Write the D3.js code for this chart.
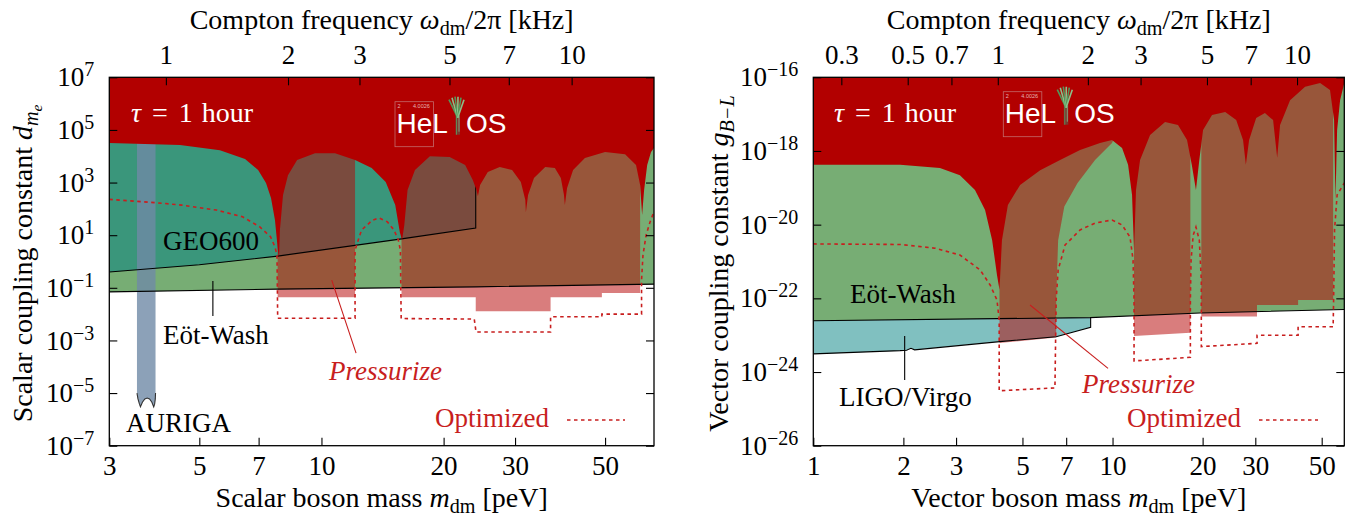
<!DOCTYPE html>
<html><head><meta charset="utf-8">
<script src="https://cdn.jsdelivr.net/npm/d3@7"></script>
<style>
body{margin:0;background:#fff;}
svg{display:block;}
text{font-family:"Liberation Serif","DejaVu Serif",serif;}
</style></head><body>
<svg id="chart" width="1350" height="517"></svg>
<script>
// ---------------- DATA ----------------
const KHZ_TO_PEV = 4.135667;

const scalarMassTicks = [3, 5, 7, 10, 20, 30, 50];
const scalarFreqTicks = [1, 2, 3, 5, 7, 10];
const scalarCouplingTicks = [1e-7, 1e-5, 1e-3, 1e-1, 1e1, 1e3, 1e5, 1e7];
const vectorMassTicks = [1, 2, 3, 5, 7, 10, 20, 30, 50];
const vectorFreqTicks = [0.3, 0.5, 0.7, 1, 2, 3, 5, 7, 10];
const vectorCouplingTicks = [1e-26, 1e-24, 1e-22, 1e-20, 1e-18, 1e-16];

// Scalar panel (mass [peV], d_me)
const scalarEotWash = [[3, 0.07], [7.77, 0.089], [24, 0.109], [66, 0.138]];
const scalarGEO600 = [[3, 0.4], [5, 0.75], [7.8, 1.6], [15.6, 7.1], [24, 18.6]];
const scalarAURIGA = [[3.51, 1e7], [3.51, 1e-5], [3.53, 6e-6], [3.56, 3.8e-6], [3.58, 3e-6], [3.62, 4.5e-6],
  [3.67, 6e-6], [3.72, 6.5e-6], [3.77, 6e-6], [3.82, 4.5e-6], [3.86, 3e-6], [3.88, 3.8e-6], [3.895, 6e-6],
  [3.90, 1e-5], [3.90, 1e7]];
const scalarHelios = [[3.0, 3.2e4], [4.48, 2.7e4], [5.62, 1.7e4], [6.48, 7.8e3], [6.98, 3.0e3], [7.3, 960],
  [7.51, 258], [7.68, 37.5], [7.81, 2.7], [7.86, 1.35], [7.9, 15.6], [8.04, 335], [8.27, 1.9e3], [8.71, 7.2e3],
  [9.64, 1.3e4], [10.8, 1.3e4], [12.1, 7.2e3], [13.3, 3.6e3], [14.4, 1.04e3], [15.2, 139], [15.6, 13],
  [15.8, 6.5], [16.0, 24], [16.3, 520], [17.0, 3.0e3], [18.5, 1.0e4], [20.7, 9.3e3], [22.6, 4.6e3],
  [23.6, 1.24e3], [24.1, 520], [24.3, 300], [24.6, 800], [25.7, 2.5e3], [27.5, 3.9e3], [29.5, 3.0e3],
  [31.0, 1.04e3], [31.8, 216], [31.9, 75], [32.3, 335], [33.4, 1.5e3], [35.6, 3.9e3], [37.6, 3.6e3],
  [38.9, 1.5e3], [39.6, 335], [39.8, 139], [40.3, 620], [41.7, 3.0e3], [44.6, 8.5e3], [50.0, 1.45e4],
  [56.0, 1.2e4], [59.6, 4.6e3], [61.0, 800], [61.7, 58], [62.4, 520], [63.5, 4.6e3], [64.9, 1.45e4], [66.0, 2.05e4]];
const scalarPressurize = [
  [[7.8, 1e7], [7.8, 0.044], [12.1, 0.044], [12.1, 1e7]],
  [[15.75, 1e7], [15.75, 0.044], [24.0, 0.044], [24.0, 0.013], [36.7, 0.013], [36.7, 0.044], [49.1, 0.044],
   [49.1, 0.063], [61.0, 0.063], [61.0, 1e7]]
];
const scalarOptimized = [[3.0, 230], [3.91, 171], [4.53, 139], [5.51, 90], [6.39, 50], [7.04, 20.9], [7.49, 8.7],
  [7.68, 3.6], [7.77, 1.75], [7.8, 0.007], [12.1, 0.007], [12.1, 2.7], [12.55, 15.6], [13.35, 37], [13.85, 46],
  [14.54, 32], [15.1, 15.6], [15.47, 6.5], [15.65, 2.7], [15.72, 0.0068], [23.8, 0.0065], [24.04, 0.0021],
  [36.7, 0.0021], [36.7, 0.0079], [49.1, 0.0079], [49.1, 0.01], [61.5, 0.01], [61.5, 0.2], [62.0, 1.75],
  [63.1, 10], [64.5, 31], [66.0, 78]];

// Vector panel (mass [peV], g_B-L)
const vectorEotWash = [[1, 2.47e-23], [8.41, 3.0e-23], [19.6, 4.0e-23], [59.5, 5.0e-23]];
const vectorLIGO = [[1, 3.1e-24], [1.95, 3.8e-24], [2.05, 3.9e-24], [2.12, 4.4e-24], [2.18, 4.0e-24],
  [4.2, 6.7e-24], [6.48, 9.1e-24], [8.45, 1.64e-23], [8.45, 3.0e-23]];
const vectorHelios = [[1, 4.2e-19], [1.95, 4.2e-19], [2.65, 3.45e-19], [3.09, 2.2e-19], [3.47, 8.7e-20],
  [3.75, 2.5e-20], [3.96, 3.8e-21], [4.11, 4.3e-22], [4.19, 1.7e-22], [4.27, 3.8e-21], [4.47, 3.4e-20],
  [4.91, 1.2e-19], [5.73, 3.0e-19], [6.68, 5.7e-19], [7.79, 1.06e-18], [9.08, 1.65e-18], [9.96, 2.0e-18],
  [10.76, 1.2e-18], [11.27, 4.2e-19], [11.62, 6.4e-20], [11.8, 2.0e-21], [11.98, 8.7e-20], [12.36, 5.7e-19],
  [13.35, 2.7e-18], [14.98, 6.1e-18], [16.55, 5.1e-18], [17.74, 2.0e-18], [18.4, 4.2e-19], [19.0, 8.7e-20],
  [19.5, 5.7e-19], [20.07, 3.7e-18], [21.5, 9.5e-18], [23.8, 1.14e-17], [25.9, 6.9e-18], [27.3, 2.0e-18],
  [27.9, 4.2e-19], [28.6, 2.0e-18], [30.2, 7.9e-18], [32.3, 1.07e-17], [34.4, 6.9e-18], [35.5, 6.5e-19],
  [36.3, 5.1e-18], [39.2, 2.4e-17], [44.0, 5.5e-17], [49.4, 7.0e-17], [53.3, 4.5e-17], [55.0, 6.9e-18],
  [55.6, 4.7e-20], [56.3, 3.7e-18], [57.6, 2.4e-17], [59.5, 7.0e-17]];
const vectorPressurize = [
  [[4.19, 1e-16], [4.19, 6.1e-24], [6.48, 8.6e-24], [6.48, 9e-23], [6.58, 3.8e-21], [6.9, 3.1e-20],
   [7.64, 1.35e-19], [8.74, 5.7e-19], [9.96, 1.65e-18], [11.44, 2.4e-17], [11.8, 1e-16]],
  [[11.8, 1e-16], [11.8, 9.5e-24], [18.2, 1.17e-23], [18.2, 1e-16]],
  [[19.8, 1e-16], [19.8, 3.2e-23], [30.4, 3.2e-23], [30.4, 6.6e-23], [41.7, 6.6e-23], [41.7, 9e-23],
   [54.6, 9e-23], [54.6, 1e-16]]
];
const vectorOptimized = [[1, 3.0e-21], [1.95, 2.9e-21], [2.55, 2.3e-21], [3.09, 1.5e-21], [3.61, 5.9e-22],
  [3.90, 2.3e-22], [4.11, 9.0e-23], [4.18, 2.6e-23], [4.18, 3.1e-25], [6.42, 3.7e-25], [6.48, 9.0e-23],
  [6.58, 5.9e-22], [6.94, 2.8e-21], [7.79, 7.2e-21], [8.74, 1.1e-20], [9.96, 1.34e-20], [10.76, 9.8e-21],
  [11.44, 4.6e-21], [11.71, 1.1e-21], [11.8, 9e-23], [11.8, 2.0e-24], [18.2, 2.5e-24], [18.2, 9e-23],
  [18.3, 1.1e-21], [18.6, 5.2e-21], [19.0, 8.6e-21], [19.5, 3.8e-21], [19.8, 3.1e-22], [19.8, 4.9e-24],
  [30.4, 6.0e-24], [30.4, 1.0e-23], [41.7, 1.0e-23], [41.7, 1.7e-23], [54.6, 1.7e-23], [54.8, 9e-23],
  [55.2, 7.2e-21], [56.3, 6.4e-20], [59.5, 1.35e-19]];

// ---------------- STYLE ----------------
const C = {
  darkRed: "#b20000", green: "#77ad74", teal: "#3a967b", ligo: "#80c0c0",
  press: "#b60505", pressOp: 0.52, auriga: "#6f8aa6", red: "#c81e1e"
};
const FS = 27;
const TFS = 28;
const SANS = "'Liberation Sans', Arial, Helvetica, sans-serif";

const svg = d3.select("#chart");

function rich(g, x, y, parts, opts = {}) {
  const fs = opts.size || FS;
  const t = g.append("text").attr("x", x).attr("y", y).attr("font-size", fs)
    .attr("fill", opts.fill || "#000").attr("text-anchor", opts.anchor || "start");
  if (opts.italic) t.attr("font-style", "italic");
  let shift = 0;
  parts.forEach(p => {
    const s = t.append("tspan").text(p.t);
    let target = 0, size = fs;
    if (p.sub === 1) { target = fs * 0.22; size = fs * 0.72; }
    if (p.sub === 2) { target = fs * 0.36; size = fs * 0.55; }
    s.attr("dy", target - shift).attr("font-size", size);
    if (p.dx) s.attr("dx", p.dx);
    shift = target;
    if (p.i) s.attr("font-style", "italic");
  });
  return t;
}

function drawPanel(cfg) {
  const { x0, x1, y0, y1 } = cfg;
  const X = d3.scaleLog().domain(cfg.xDom).range([x0, x1]);
  const Y = d3.scaleLog().domain(cfg.yDom).range([y1, y0]);
  const line = d3.line().x(d => X(d[0])).y(d => Y(d[1]));
  const yTop = cfg.yDom[1];
  const above = pts => line(pts.concat([[pts[pts.length - 1][0], yTop * 10], [pts[0][0], yTop * 10]])) + "Z";

  const clipId = "clip" + cfg.id;
  svg.append("clipPath").attr("id", clipId).append("rect")
    .attr("x", x0).attr("y", y0).attr("width", x1 - x0).attr("height", y1 - y0);
  const g = svg.append("g").attr("clip-path", `url(#${clipId})`);

  if (cfg.ligo) {
    g.append("path").attr("d", line(cfg.ligo.concat([[cfg.ligo[0][0], cfg.ligo[0][1] * 30]])) + "Z")
      .attr("fill", C.ligo);
  }
  g.append("path").attr("d", above(cfg.eot)).attr("fill", C.green);
  if (cfg.geo) g.append("path").attr("d", above(cfg.geo)).attr("fill", C.teal);
  if (cfg.auriga) g.append("path").attr("d", line(cfg.auriga) + "Z").attr("fill", C.auriga).attr("fill-opacity", 0.8);

  cfg.press.forEach(p => g.append("path").attr("d", line(p) + "Z").attr("fill", C.press).attr("fill-opacity", C.pressOp));

  const ln = (pts, col) => g.append("path").attr("d", line(pts)).attr("fill", "none")
    .attr("stroke", col || "#000").attr("stroke-width", 1.1);
  ln(cfg.eot);
  if (cfg.geo) ln(cfg.geo.concat([[cfg.geo[cfg.geo.length - 1][0], yTop]]));
  if (cfg.ligo) ln(cfg.ligo);
  if (cfg.auriga) ln(cfg.auriga.slice(1, -1), "#333");

  g.append("path").attr("d", above(cfg.helios)).attr("fill", C.darkRed);

  g.append("path").attr("d", line(cfg.opt)).attr("fill", "none").attr("stroke", C.red)
    .attr("stroke-width", 1.6).attr("stroke-dasharray", "3.5,3.5");

  // axes (inward ticks)
  const ax = svg.append("g");
  const styleAxis = sel => {
    sel.attr("font-family", null).attr("font-size", null);
    sel.select(".domain").remove();
    sel.selectAll(".tick line").attr("stroke", "#000").attr("stroke-width", 1.1);
    sel.selectAll(".tick text").attr("font-size", FS).attr("fill", "#000");
  };
  ax.append("g").attr("transform", `translate(0,${y1})`)
    .call(d3.axisBottom(X).tickValues(cfg.xTicks).tickSize(-8).tickPadding(10).tickFormat(d => d))
    .call(styleAxis);
  ax.append("g").attr("transform", `translate(0,${y0})`)
    .call(d3.axisTop(X).tickValues(cfg.fTicks.map(f => f * KHZ_TO_PEV)).tickSize(-8).tickPadding(13)
      .tickFormat((d, i) => cfg.fTicks[i]))
    .call(styleAxis);
  const yl = ax.append("g").attr("transform", `translate(${x0},0)`)
    .call(d3.axisLeft(Y).tickValues(cfg.yTicks).tickSize(-8).tickPadding(15))
    .call(styleAxis);
  yl.selectAll(".tick text").each(function (d) {
    const t = d3.select(this); const e = Math.round(Math.log10(d));
    t.text(null);
    t.append("tspan").text("10");
    t.append("tspan").attr("dy", "-0.5em").attr("font-size", 20).text(e < 0 ? "\u2212" + (-e) : e);
  });
  ax.append("g").attr("transform", `translate(${x1},0)`)
    .call(d3.axisRight(Y).tickValues(cfg.yTicks).tickSize(-8).tickFormat(""))
    .call(styleAxis);
  svg.append("rect").attr("x", x0).attr("y", y0).attr("width", x1 - x0).attr("height", y1 - y0)
    .attr("fill", "none").attr("stroke", "#000").attr("stroke-width", 1.3);

  // titles
  const cx = (x0 + x1) / 2;
  rich(svg, cx, 29, [{ t: "Compton frequency " }, { t: "ω", i: 1 }, { t: "dm", sub: 1 }, { t: "/2π [kHz]" }], { anchor: "middle", size: TFS });
  rich(svg, cx, 507, [{ t: cfg.xTitle + " boson mass " }, { t: "m", i: 1 }, { t: "dm", sub: 1 }, { t: " [peV]" }], { anchor: "middle", size: TFS });
  const yt = svg.append("g").attr("transform", `translate(${cfg.yTitleX},${(y0 + y1) / 2 + 2}) rotate(-90)`);
  rich(yt, 0, 0, cfg.yTitle, { anchor: "middle", size: TFS });

  return { X, Y, g };
}

function logo(x, y) {
  const g = svg.append("g").attr("transform", `translate(${x},${y})`);
  g.append("rect").attr("x", 0).attr("y", 0).attr("width", 38.5).attr("height", 45)
    .attr("fill", "none").attr("stroke", "#c46a6a").attr("stroke-width", 0.8);
  const st = (sel) => sel.style("font-family", SANS);
  st(g.append("text").attr("x", 2.5).attr("y", 6.5).attr("font-size", 5.5).attr("fill", "#e6b4b4").text("2"));
  st(g.append("text").attr("x", 18).attr("y", 6.5).attr("font-size", 5.5).attr("fill", "#e6b4b4").text("4.0026"));
  st(g.append("text").attr("x", 1.5).attr("y", 31).attr("font-size", 28).attr("fill", "#fff").text("HeL"));
  st(g.append("text").attr("x", 71).attr("y", 31).attr("font-size", 28).attr("fill", "#fff").text("OS"));
  g.append("rect").attr("x", 60.5).attr("y", 10).attr("width", 4.5).attr("height", 23).attr("fill", "#7a3a30");
  const fan = [[54, -2], [57, -4], [60, -5], [63, -5], [66, -4], [69, -2]];
  fan.forEach((p, i) => g.append("line").attr("x1", 62.7).attr("y1", 16).attr("x2", p[0]).attr("y2", p[1])
    .attr("stroke", i % 2 ? "#8cc08a" : "#4f9a5a").attr("stroke-width", 1.6));
  g.append("line").attr("x1", 61.5).attr("y1", 14).attr("x2", 61.5).attr("y2", 33).attr("stroke", "#5c9a60").attr("stroke-width", 0.8);
  g.append("line").attr("x1", 64).attr("y1", 14).attr("x2", 64).attr("y2", 30).attr("stroke", "#8fb58a").attr("stroke-width", 0.8);
}

// ---------------- LEFT (scalar) ----------------
const L = drawPanel({
  id: "L", x0: 109.3, x1: 654, y0: 77.3, y1: 445.7, xDom: [3, 66], yDom: [1e-7, 1e7],
  xTicks: scalarMassTicks, fTicks: scalarFreqTicks, yTicks: scalarCouplingTicks,
  eot: scalarEotWash, geo: scalarGEO600, auriga: scalarAURIGA, helios: scalarHelios,
  press: scalarPressurize, opt: scalarOptimized, xTitle: "Scalar", yTitleX: 32,
  yTitle: [{ t: "Scalar coupling constant " }, { t: "d", i: 1 }, { t: "m", i: 1, sub: 1 }, { t: "e", i: 1, sub: 2 }]
});
// ---------------- RIGHT (vector) ----------------
const R = drawPanel({
  id: "R", x0: 813.3, x1: 1344.3, y0: 77.3, y1: 445.7, xDom: [1, 59.5], yDom: [1e-26, 1e-16],
  xTicks: vectorMassTicks, fTicks: vectorFreqTicks, yTicks: vectorCouplingTicks,
  eot: vectorEotWash, ligo: vectorLIGO, helios: vectorHelios,
  press: vectorPressurize, opt: vectorOptimized, xTitle: "Vector", yTitleX: 728,
  yTitle: [{ t: "Vector coupling constant " }, { t: "g", i: 1 }, { t: "B−L", i: 1, sub: 1 }]
});

// annotations
const ptr = (P, a, b, col) => svg.append("line").attr("x1", P.X(a[0])).attr("y1", P.Y(a[1]))
  .attr("x2", P.X(b[0])).attr("y2", P.Y(b[1])).attr("stroke", col).attr("stroke-width", 1.1);
const tau = [{ t: "τ", i: 1 }, { t: "=", dx: 11 }, { t: "1", dx: 11 }, { t: "hour", dx: 9 }];

rich(svg, 131, 122, tau, { fill: "#fff", size: 28 });
rich(svg, 163, 250, [{ t: "GEO600" }]);
rich(svg, 163, 344, [{ t: "Eöt-Wash" }]);
rich(svg, 126, 432, [{ t: "AURIGA" }]);
rich(svg, 329, 380, [{ t: "Pressurize" }], { fill: C.red, italic: true });
rich(svg, 435, 427, [{ t: "Optimized" }], { fill: C.red });
svg.append("line").attr("x1", 567).attr("x2", 625).attr("y1", 420).attr("y2", 420)
  .attr("stroke", C.red).attr("stroke-width", 1.6).attr("stroke-dasharray", "3.5,3.5");
ptr(L, [5.40, 0.18], [5.40, 8.4e-3], "#000");
ptr(L, [10.6, 0.196], [12.17, 3.3e-4], C.red);
logo(395, 101.7);

rich(svg, 834, 122, tau, { fill: "#fff", size: 28 });
rich(svg, 850, 303, [{ t: "Eöt-Wash" }]);
rich(svg, 839, 406, [{ t: "LIGO/Virgo" }]);
rich(svg, 1082, 393, [{ t: "Pressurize" }], { fill: C.red, italic: true });
rich(svg, 1127, 427, [{ t: "Optimized" }], { fill: C.red });
svg.append("line").attr("x1", 1259).attr("x2", 1318).attr("y1", 420).attr("y2", 420)
  .attr("stroke", C.red).attr("stroke-width", 1.6).attr("stroke-dasharray", "3.5,3.5");
ptr(R, [2.02, 9.5e-24], [2.02, 6.1e-25], "#000");
ptr(R, [5.30, 6.6e-23], [9.66, 1.26e-24], C.red);
logo(1003.3, 91.7);
</script></body></html>
